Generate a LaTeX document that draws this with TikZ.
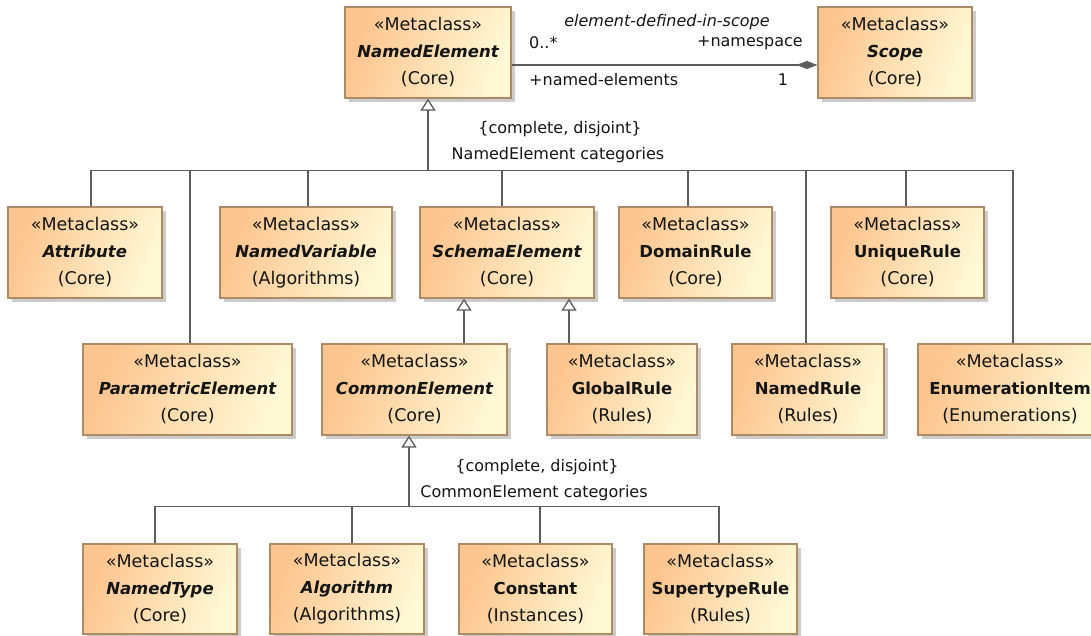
\documentclass[tikz,border=0pt]{standalone}
\usepackage{fontspec}
\setmainfont{DejaVu Sans}[ItalicFont={DejaVu Sans Oblique},BoldFont={DejaVu Sans Bold},BoldItalicFont={DejaVu Sans Bold Oblique}]
\usetikzlibrary{arrows.meta,shadows,shadings,calc}
\definecolor{mcdark}{HTML}{FCC48E}
\definecolor{mclight}{HTML}{FFF9D6}
\definecolor{mcborder}{HTML}{AC8A64}
\definecolor{linegray}{HTML}{5C5C5C}
\definecolor{txt}{HTML}{151515}
\newcommand\boxfont{\fontsize{17.5}{27}\selectfont}
\newcommand\namefont{\fontsize{16.5}{27}\selectfont\bfseries}
\newcommand\mcbi[2]{«Metaclass»\\{\namefont\itshape #1}\\(#2)}
\newcommand\mcb[2]{«Metaclass»\\{\namefont #1}\\(#2)}
\tikzset{
  mc/.style={draw=mcborder, line width=1.2pt, minimum height=91pt, inner sep=0pt,
    align=center, font=\boxfont, text=txt,
    left color=mcdark, right color=mclight, shading angle=70,
    drop shadow={shadow xshift=4pt, shadow yshift=-4pt, fill=black!20, opacity=1}},
  conn/.style={draw=linegray, line width=1.3pt},
  gen/.style={conn, -{Triangle[open, length=12pt, width=15pt, fill=white]}},
  lbl/.style={font=\fontsize{16}{18}\selectfont, text=txt, inner sep=0pt}
}
\begin{document}
\begin{tikzpicture}[x=1pt,y=-1pt]
\clip (0,0) rectangle (1091,636);
\fill[white] (0,0) rectangle (1091,636);
% row 0
\node[mc, minimum width=166pt] (ne) at (428,52.5) {\mcbi{NamedElement}{Core}};
\node[mc, minimum width=154pt] (scope) at (895,52.5) {\mcbi{Scope}{Core}};
% row 1
\node[mc, minimum width=154pt] (attr) at (85,252.5) {\mcbi{Attribute}{Core}};
\node[mc, minimum width=172pt] (nv) at (306,252.5) {\mcbi{NamedVariable}{Algorithms}};
\node[mc, minimum width=174pt] (se) at (507,252.5) {\mcbi{SchemaElement}{Core}};
\node[mc, minimum width=153pt] (dr) at (695.5,252.5) {\mcb{DomainRule}{Core}};
\node[mc, minimum width=153pt] (ur) at (907.5,252.5) {\mcb{UniqueRule}{Core}};
% row 2
\node[mc, minimum width=209pt] (pe) at (187.5,389.5) {\mcbi{ParametricElement}{Core}};
\node[mc, minimum width=185pt] (ce) at (414.5,389.5) {\mcbi{CommonElement}{Core}};
\node[mc, minimum width=150pt] (gr) at (622,389.5) {\mcb{GlobalRule}{Rules}};
\node[mc, minimum width=152pt] (nr) at (808,389.5) {\mcb{NamedRule}{Rules}};
\node[mc, minimum width=184pt] (en) at (1010,389.5) {\mcb{EnumerationItem}{Enumerations}};
% row 3
\node[mc, minimum width=154pt, minimum height=90pt] (nt) at (160,589) {\mcbi{NamedType}{Core}};
\node[mc, minimum width=154pt, minimum height=90pt] (al) at (347,589) {\mcbi{Algorithm}{Algorithms}};
\node[mc, minimum width=153pt, minimum height=90pt] (co) at (535.5,589) {\mcb{Constant}{Instances}};
\node[mc, minimum width=153pt, minimum height=90pt] (st) at (720.5,589) {\mcb{SupertypeRule}{Rules}};

% association
\draw[conn, -{Diamond[length=21pt, width=8pt, fill=linegray]}] ([yshift=-12.5pt]ne.east) -- ([yshift=-12.5pt]scope.west);
\node[lbl] (l-assoc) at (667,22) {\itshape element-defined-in-scope};
\node[lbl, anchor=west] (l-m1) at (529,43) {0..*};
\node[lbl, anchor=east] (l-ns) at (803,43) {+namespace};
\node[lbl, anchor=west] (l-r1) at (529,80) {+named-elements};
\node[lbl] (l-m2) at (783,80) {1};

% NamedElement generalization set
\coordinate (ne-foot) at (ne.south);
\coordinate (ne-bus) at ($(ne-foot)+(0,72)$);
\foreach \n/\dx in {attr/6, pe/2.5, nv/2, se/-5, dr/-7.5, nr/-2, ur/-1.5, en/3}
  \draw[conn] ([xshift=\dx pt]\n.north) |- (ne-bus);
\draw[gen] (ne-bus) -- (ne-foot);
\node[lbl] (l-c1) at (560,129) {\{complete, disjoint\}};
\node[lbl] (l-g1) at (558,155) {NamedElement categories};

% SchemaElement generalizations
\coordinate (ce-up) at ([xshift=49.5pt]ce.north);
\coordinate (gr-up) at ([xshift=-53pt]gr.north);
\draw[gen] (ce-up) -- (ce-up |- se.south);
\draw[gen] (gr-up) -- (gr-up |- se.south);

% CommonElement generalization set
\coordinate (ce-foot) at ([xshift=-5.5pt]ce.south);
\coordinate (ce-bus) at ($(ce-foot)+(0,71)$);
\foreach \n/\dx in {nt/-5, al/5, co/4.5, st/-1.5}
  \draw[conn] ([xshift=\dx pt]\n.north) |- (ce-bus);
\draw[gen] (ce-bus) -- (ce-foot);
\node[lbl] (l-c2) at (537,467) {\{complete, disjoint\}};
\node[lbl] (l-g2) at (534,493) {CommonElement categories};
\end{tikzpicture}
\end{document}
